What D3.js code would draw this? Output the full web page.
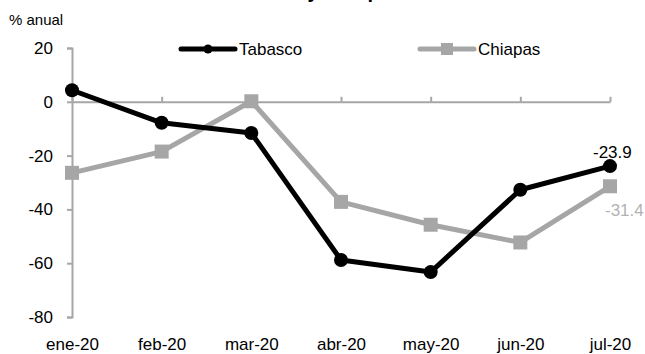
<!DOCTYPE html>
<html>
<head>
<meta charset="utf-8">
<script src="https://cdn.jsdelivr.net/npm/d3@7"></script>
<style>
  body { margin: 0; background: #fff; }
  svg { display: block; }
  text { font-family: "Liberation Sans", Arial, sans-serif; fill: #000; }
</style>
</head>
<body id="body">
<svg></svg>
<script>
var width = 645;
var height = 354;

var months = ["ene-20", "feb-20", "mar-20", "abr-20", "may-20", "jun-20", "jul-20"];
var tabasco = [4.3, -7.8, -11.6, -58.8, -63.3, -32.7, -23.9];
var chiapas = [-26.4, -18.5, 0.2, -37.2, -45.7, -52.3, -31.4];
var yTicks = [20, 0, -20, -40, -60, -80];

var svg = d3.select("svg")
  .attr("width", width)
  .attr("height", height);

var x = d3.scalePoint()
  .domain(months)
  .range([72, 610]);

var y = d3.scaleLinear()
  .domain([-80, 20])
  .range([317, 48]);

var axisColor = "#a6a6a6";
var grey = "#a6a6a6";
var fontSize = "17px";

// title, mostly cut off at the top of the picture
var title = svg.append("text")
  .attr("y", -2)
  .style("font-weight", "bold")
  .style("font-size", "20px")
  .text("Tabasco y Chiapas");
var probe = svg.append("text")
  .style("font-weight", "bold")
  .style("font-size", "20px")
  .text("Tabasco ");
var offset = probe.node().getComputedTextLength();
probe.remove();
title.attr("x", 302 - offset);

svg.append("text")
  .attr("x", 9)
  .attr("y", 25)
  .style("font-size", "15px")
  .text("% anual");

// y axis
var yAxis = svg.append("g")
  .attr("transform", "translate(72,0)")
  .call(d3.axisLeft(y)
    .tickValues(yTicks)
    .tickSize(5)
    .tickSizeOuter(5)
    .tickPadding(14)
    .tickFormat(function (d) { return String(d); }));
yAxis.selectAll("path, line").attr("stroke", axisColor).attr("stroke-width", 2);
yAxis.selectAll("text")
  .style("font-size", fontSize)
  .style("font-family", "Liberation Sans, Arial, sans-serif")
  .attr("fill", "#000");

// zero line with ticks pointing up
var xAxis = svg.append("g")
  .attr("transform", "translate(0," + y(0) + ")")
  .call(d3.axisBottom(x).tickSize(-5).tickSizeOuter(0).tickFormat(""));
xAxis.selectAll("path, line").attr("stroke", axisColor).attr("stroke-width", 2);

// category labels at the bottom
var xLabels = svg.append("g")
  .attr("transform", "translate(0," + 334 + ")")
  .call(d3.axisBottom(x).tickSize(0).tickPadding(4));
xLabels.select(".domain").remove();
xLabels.selectAll("text")
  .style("font-size", fontSize)
  .style("font-family", "Liberation Sans, Arial, sans-serif")
  .attr("fill", "#000");

var line = d3.line()
  .x(function (d, i) { return x(months[i]); })
  .y(function (d) { return y(d); });

// Chiapas
svg.append("path")
  .datum(chiapas)
  .attr("fill", "none")
  .attr("stroke", grey)
  .attr("stroke-width", 5)
  .attr("stroke-linejoin", "round")
  .attr("d", line);
svg.append("g").selectAll("rect")
  .data(chiapas)
  .enter().append("rect")
  .attr("x", function (d, i) { return x(months[i]) - 7; })
  .attr("y", function (d) { return y(d) - 7; })
  .attr("width", 14)
  .attr("height", 14)
  .attr("fill", grey);

// Tabasco
svg.append("path")
  .datum(tabasco)
  .attr("fill", "none")
  .attr("stroke", "#000")
  .attr("stroke-width", 5)
  .attr("stroke-linejoin", "round")
  .attr("d", line);
svg.append("g").selectAll("circle")
  .data(tabasco)
  .enter().append("circle")
  .attr("cx", function (d, i) { return x(months[i]); })
  .attr("cy", function (d) { return y(d); })
  .attr("r", 7)
  .attr("fill", "#000");

// end labels
var last = months.length - 1;
svg.append("text")
  .attr("x", x(months[last]) - 17)
  .attr("y", y(tabasco[last]) - 8)
  .style("font-size", fontSize)
  .text(tabasco[last].toFixed(1));
svg.append("text")
  .attr("x", x(months[last]) - 5)
  .attr("y", y(chiapas[last]) + 30)
  .style("font-size", fontSize)
  .style("fill", "#b2b2b2")
  .text(chiapas[last].toFixed(1));

// legend
var legend = [
  {name: "Tabasco", color: "#000", x1: 181, x2: 235, mark: "circle"},
  {name: "Chiapas", color: grey, x1: 420, x2: 474, mark: "rect"}
];
var ly = 49;
legend.forEach(function (d) {
  svg.append("line")
    .attr("x1", d.x1).attr("x2", d.x2)
    .attr("y1", ly).attr("y2", ly)
    .attr("stroke", d.color)
    .attr("stroke-width", 5)
    .attr("stroke-linecap", "round");
  var mid = (d.x1 + d.x2) / 2;
  if (d.mark === "circle") {
    svg.append("circle").attr("cx", mid).attr("cy", ly).attr("r", 4.5).attr("fill", d.color);
  } else {
    svg.append("rect").attr("x", mid - 6).attr("y", ly - 6).attr("width", 12).attr("height", 12).attr("fill", d.color);
  }
  svg.append("text")
    .attr("x", d.x2 + 4)
    .attr("y", ly + 6)
    .style("font-size", fontSize)
    .text(d.name);
});
</script>
</body>
</html>
